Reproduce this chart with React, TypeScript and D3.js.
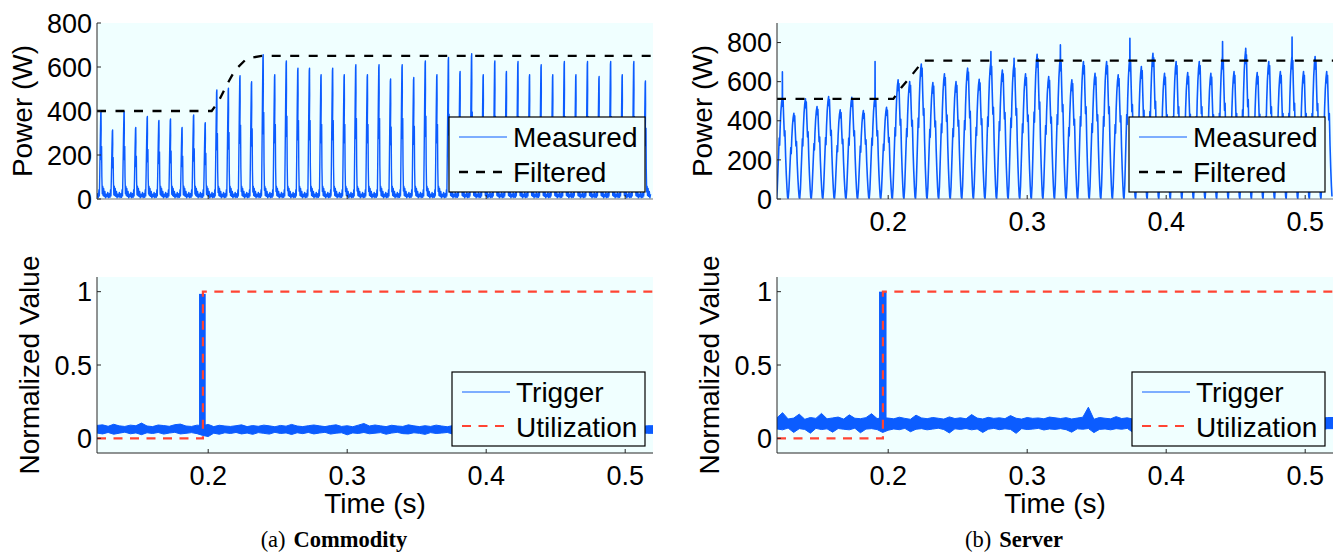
import React from 'react';
import * as d3 from 'd3';

// ---------------- data ----------------
const X_DOMAIN: [number, number] = [0.12, 0.52];
const X_TICKS = [0.2, 0.3, 0.4, 0.5];
const X_TICK_LABELS = ['0.2', '0.3', '0.4', '0.5'];
const POWER_TICKS = [0, 200, 400, 600, 800];
const NORM_TICKS = [0, 0.5, 1];
const NORM_TICK_LABELS = ['0', '0.5', '1'];
const COM_POWER_DOMAIN: [number, number] = [0, 800];
const SRV_POWER_DOMAIN: [number, number] = [0, 900];
const NORM_DOMAIN: [number, number] = [-0.1, 1.1];

const PERIOD = 1 / 120; // rectified 60 Hz mains
const COM_FIRST_PEAK = 0.1229;
const SRV_FIRST_PEAK = 0.1238;

// Commodity: peak power of each spike (W)
const comPeaks = [
  398, 314, 398, 325, 375, 357, 364, 325, 382, 347,
  496, 504, 560, 533, 656, 565, 628, 595, 595, 565,
  595, 565, 610, 565, 610, 546, 610, 552, 628, 565,
  643, 580, 660, 565, 628, 580, 625, 565, 610, 565,
  625, 565, 625, 557, 625, 565, 625, 537,
];
// one spike: [time offset from peak (s), absolute W, fraction of peak]
const comSpikeShape: [number, number, number][] = [
  [-0.0041, 10, 0], [-0.0035, 30, 0], [-0.0030, 6, 0], [-0.0024, 24, 0],
  [-0.0019, 8, 0], [-0.0015, 42, 0], [-0.0012, 14, 0], [-0.0009, 0, 0.3],
  [-0.0005, 0, 0.72], [-0.0002, 0, 0.98], [0, 0, 1], [0.0001, 0, 0.8],
  [-0.0001, 0, 0.55], [0.0002, 0, 0.45], [0.0004, 0, 0.6], [0.0006, 0, 0.25],
  [0.0009, 0, 0.06], [0.0012, 58, 0], [0.0015, 16, 0], [0.0019, 48, 0],
  [0.0023, 12, 0], [0.0028, 34, 0], [0.0032, 5, 0], [0.0037, 22, 0],
];
const comFiltered: [number, number][] = [
  [0.12, 400], [0.2025, 400], [0.2073, 442], [0.2133, 518], [0.2193, 586],
  [0.2277, 638], [0.2385, 651], [0.52, 651],
];

// Server: body peak of each cycle (W)
const srvPeaks = [
  520, 438, 512, 473, 524, 456, 520, 452, 520, 469,
  609, 600, 690, 595, 640, 600, 669, 612, 700, 660,
  690, 640, 740, 626, 720, 609, 703, 643, 703, 635,
  720, 677, 745, 643, 703, 647, 703, 643, 730, 652,
  760, 647, 703, 652, 730, 652, 729, 652,
];
// narrow spikes above the body: [cycle index, W]
const srvSpikes: [number, number][] = [
  [0, 650], [8, 703], [18, 754], [20, 720], [24, 788], [30, 822], [38, 805], [40, 771], [44, 828],
];
// one cycle: [time offset from peak (s), fraction of peak]
const srvCycleShape: [number, number][] = [
  [-0.00415, 0.0], [-0.0036, 0.1], [-0.0031, 0.28], [-0.0026, 0.46], [-0.0022, 0.6],
  [-0.0019, 0.53], [-0.0015, 0.71], [-0.001, 0.86], [-0.0005, 0.95], [0, 1.0],
  [0.0003, 0.91], [0.0006, 0.97], [0.001, 0.8], [0.0015, 0.62], [0.0019, 0.67],
  [0.0024, 0.42], [0.0029, 0.24], [0.0034, 0.1], [0.0038, 0.02],
];
const srvFiltered: [number, number][] = [
  [0.12, 512], [0.2037, 512], [0.2095, 570], [0.2157, 622], [0.2253, 708], [0.52, 708],
];

// Trigger envelopes, one value per 4 ms bin starting at 0.12 s
const TRIG_STEP = 0.004;
const comTrigHi = [
  0.088, 0.092, 0.082, 0.096, 0.085, 0.081, 0.090, 0.086, 0.104, 0.084,
  0.080, 0.091, 0.087, 0.082, 0.093, 0.097, 0.084, 0.081, 0.090, 0.086,
  0.095, 0.080, 0.089, 0.084, 0.081, 0.086, 0.092, 0.080, 0.087, 0.082,
  0.090, 0.085, 0.079, 0.088, 0.083, 0.095, 0.084, 0.080, 0.086, 0.091,
  0.085, 0.080, 0.087, 0.092, 0.081, 0.086, 0.079, 0.090, 0.101, 0.084,
  0.091, 0.085, 0.080, 0.089, 0.084, 0.081, 0.092, 0.085, 0.080, 0.086,
  0.081, 0.090, 0.084, 0.079, 0.087, 0.093, 0.085, 0.080, 0.089, 0.084,
  0.081, 0.086, 0.091, 0.084, 0.080, 0.087, 0.092, 0.081, 0.085, 0.090,
  0.080, 0.086, 0.093, 0.081, 0.085, 0.089, 0.084, 0.080, 0.087, 0.091,
  0.084, 0.080, 0.090, 0.085, 0.081, 0.087, 0.092, 0.084, 0.080, 0.086,
];
const comTrigLo = [
  0.036, 0.030, 0.040, 0.028, 0.035, 0.042, 0.031, 0.037, 0.025, 0.038,
  0.033, 0.040, 0.029, 0.036, 0.041, 0.030, 0.034, 0.039, 0.032, 0.020,
  0.012, 0.035, 0.028, 0.038, 0.033, 0.040, 0.030, 0.036, 0.027, 0.039,
  0.034, 0.029, 0.041, 0.033, 0.037, 0.026, 0.038, 0.032, 0.040, 0.030,
  0.036, 0.041, 0.029, 0.035, 0.038, 0.024, 0.037, 0.033, 0.040, 0.031,
  0.035, 0.039, 0.028, 0.036, 0.041, 0.032, 0.030, 0.038, 0.034, 0.027,
  0.039, 0.033, 0.036, 0.040, 0.029, 0.035, 0.031, 0.038, 0.034, 0.040,
  0.030, 0.036, 0.027, 0.039, 0.034, 0.031, 0.037, 0.040, 0.029, 0.035,
  0.038, 0.032, 0.036, 0.028, 0.040, 0.034, 0.031, 0.037, 0.033, 0.026,
  0.039, 0.035, 0.030, 0.037, 0.041, 0.032, 0.036, 0.029, 0.038, 0.034,
];
const srvTrigHi = [
  0.140, 0.175, 0.132, 0.138, 0.165, 0.130, 0.142, 0.136, 0.170, 0.133,
  0.139, 0.145, 0.131, 0.160, 0.137, 0.134, 0.141, 0.168, 0.135, 0.140,
  0.138, 0.133, 0.144, 0.136, 0.130, 0.158, 0.139, 0.134, 0.142, 0.137,
  0.131, 0.146, 0.135, 0.140, 0.133, 0.162, 0.138, 0.132, 0.143, 0.136,
  0.140, 0.134, 0.155, 0.137, 0.131, 0.142, 0.136, 0.139, 0.133, 0.145,
  0.140, 0.135, 0.141, 0.132, 0.138, 0.144, 0.212, 0.130, 0.142, 0.137,
  0.133, 0.148, 0.135, 0.140, 0.131, 0.139, 0.136, 0.143, 0.134, 0.138,
  0.141, 0.132, 0.137, 0.145, 0.133, 0.139, 0.136, 0.131, 0.142, 0.135,
  0.140, 0.134, 0.138, 0.156, 0.132, 0.141, 0.137, 0.133, 0.144, 0.136,
  0.139, 0.131, 0.143, 0.135, 0.138, 0.162, 0.134, 0.140, 0.136, 0.142,
];
const srvTrigLo = [
  0.064, 0.058, 0.070, 0.040, 0.066, 0.061, 0.035, 0.068, 0.060, 0.065,
  0.042, 0.067, 0.062, 0.058, 0.069, 0.038, 0.063, 0.066, 0.060, 0.040,
  0.055, 0.064, 0.059, 0.068, 0.045, 0.062, 0.066, 0.058, 0.063, 0.069,
  0.060, 0.037, 0.065, 0.061, 0.067, 0.058, 0.064, 0.040, 0.062, 0.068,
  0.059, 0.065, 0.061, 0.034, 0.066, 0.060, 0.063, 0.068, 0.057, 0.064,
  0.061, 0.066, 0.059, 0.042, 0.065, 0.062, 0.067, 0.039, 0.061, 0.064,
  0.058, 0.066, 0.062, 0.068, 0.041, 0.063, 0.059, 0.065, 0.060, 0.067,
  0.044, 0.062, 0.066, 0.058, 0.064, 0.061, 0.038, 0.065, 0.060, 0.067,
  0.063, 0.059, 0.066, 0.045, 0.062, 0.068, 0.060, 0.064, 0.040, 0.065,
  0.061, 0.067, 0.058, 0.063, 0.066, 0.043, 0.062, 0.064, 0.059, 0.066,
];
// trigger pulse: [start s, end s, bottom, top]
const comPulse = [0.1934, 0.1982, 0.03, 0.985];
const srvPulse = [0.1934, 0.1988, 0.06, 1.0];
const utilization: [number, number][] = [[0.12, 0], [0.1962, 0], [0.1962, 1], [0.52, 1]];

const captions = [
  { tag: '(a)', name: 'Commodity' },
  { tag: '(b)', name: 'Server' },
];

// ---------------- layout / style ----------------
const W = 1342, H = 554;
const PANEL_DX = [0, 680];
const PLOT_L = 97, PLOT_R = 653;
const TOP_RANGE: [number, number] = [199, 23];
const BOT_RANGE: [number, number] = [453, 277];
const BG = '#F0FFFF';
const BLUE = '#0b5cff';
const RED = '#ff4433';
const AXIS = '#262626';
const FONT = "'Liberation Sans', Arial, Helvetica, sans-serif";
const SERIF = "'Liberation Serif', 'Times New Roman', serif";
const FS = 28;
const TICK_FS = 27;

function buildCommodity(): [number, number][] {
  const pts: [number, number][] = [];
  comPeaks.forEach((p, k) => {
    const tc = COM_FIRST_PEAK + k * PERIOD;
    comSpikeShape.forEach(([dt, a, r]) => pts.push([tc + dt, a + r * p]));
  });
  return pts;
}
function buildServer(): [number, number][] {
  const pts: [number, number][] = [];
  const spikeMap = new Map(srvSpikes);
  srvPeaks.forEach((p, k) => {
    const tc = SRV_FIRST_PEAK + k * PERIOD;
    srvCycleShape.forEach(([dt, r]) => {
      pts.push([tc + dt, r * p]);
      if (dt === 0 && spikeMap.has(k)) {
        pts.push([tc + 0.00008, spikeMap.get(k) as number]);
        pts.push([tc + 0.00016, r * p]);
      }
    });
  });
  return pts;
}

function Legend({ x, y, w, h, rows, lineX0, lineX1, textX }: any) {
  return (
    <g>
      <rect x={x} y={y} width={w} height={h} fill={BG} stroke="#000" strokeWidth={1.2} />
      {rows.map((r: any, i: number) => (
        <g key={i}>
          <line x1={lineX0} x2={lineX1} y1={r.ly} y2={r.ly} stroke={r.color} strokeWidth={r.width}
            strokeDasharray={r.dash} />
          <text x={textX} y={r.ty} fontSize={FS} fontFamily={FONT} fill="#000">{r.label}</text>
        </g>
      ))}
    </g>
  );
}

function Panel({ idx }: { idx: number }) {
  const dx = PANEL_DX[idx];
  const isCom = idx === 0;
  const x = d3.scaleLinear().domain(X_DOMAIN).range([PLOT_L + dx, PLOT_R + dx]);
  const yTop = d3.scaleLinear().domain(isCom ? COM_POWER_DOMAIN : SRV_POWER_DOMAIN).range(TOP_RANGE);
  const yBot = d3.scaleLinear().domain(NORM_DOMAIN).range(BOT_RANGE);

  const measured = isCom ? buildCommodity() : buildServer();
  const filtered = isCom ? comFiltered : srvFiltered;
  const lineTop = d3.line<[number, number]>().x(d => x(d[0])).y(d => yTop(d[1]));
  const lineBot = d3.line<[number, number]>().x(d => x(d[0])).y(d => yBot(d[1]));

  const hi = isCom ? comTrigHi : srvTrigHi;
  const lo = isCom ? comTrigLo : srvTrigLo;
  const trig = hi.map((h, i) => ({ t: X_DOMAIN[0] + i * TRIG_STEP, h, l: lo[i] }));
  trig.push({ t: X_DOMAIN[1], h: hi[hi.length - 1], l: lo[lo.length - 1] });
  const trigArea = d3.area<any>().x(d => x(d.t)).y0(d => yBot(d.l)).y1(d => yBot(d.h));
  const pulse = isCom ? comPulse : srvPulse;

  const clipTop = `clipTop${idx}`;
  const clipBot = `clipBot${idx}`;
  const xl = PLOT_L + dx, xr = PLOT_R + dx;
  const midX = (xl + xr) / 2;

  return (
    <g>
      <defs>
        <clipPath id={clipTop}><rect x={xl} y={TOP_RANGE[1]} width={xr - xl} height={TOP_RANGE[0] - TOP_RANGE[1]} /></clipPath>
        <clipPath id={clipBot}><rect x={xl} y={BOT_RANGE[1]} width={xr - xl} height={BOT_RANGE[0] - BOT_RANGE[1]} /></clipPath>
      </defs>
      {/* top panel */}
      <rect x={xl} y={TOP_RANGE[1]} width={xr - xl} height={TOP_RANGE[0] - TOP_RANGE[1]} fill={BG} />
      <g clipPath={`url(#${clipTop})`}>
        <path d={lineTop(measured) || ''} fill="none" stroke={BLUE} strokeWidth={isCom ? 1.4 : 1.6} strokeLinejoin="round" />
        <path d={lineTop(filtered) || ''} fill="none" stroke="#000" strokeWidth={2.3} strokeDasharray="9 9.5" />
      </g>
      <line x1={xl} x2={xr} y1={TOP_RANGE[0]} y2={TOP_RANGE[0]} stroke="#777" strokeWidth={1} />
      <line x1={xl} x2={xl} y1={TOP_RANGE[0]} y2={TOP_RANGE[1]} stroke={AXIS} strokeWidth={1} />
      {POWER_TICKS.map(v => (
        <g key={v}>
          <line x1={xl} x2={xl + 4} y1={yTop(v)} y2={yTop(v)} stroke={AXIS} />
          <text x={xl - 5} y={yTop(v) + 9.7} textAnchor="end" fontSize={TICK_FS} fontFamily={FONT}>{v}</text>
        </g>
      ))}
      {X_TICKS.map((v, i) => (
        <g key={v}>
          <line x1={x(v)} x2={x(v)} y1={TOP_RANGE[0]} y2={TOP_RANGE[0] - 4} stroke={AXIS} />
          {!isCom && (
            <text x={x(v)} y={TOP_RANGE[0] + 32} textAnchor="middle" fontSize={TICK_FS} fontFamily={FONT}>{X_TICK_LABELS[i]}</text>
          )}
        </g>
      ))}
      <text transform={`translate(${32 + dx},${(TOP_RANGE[0] + TOP_RANGE[1]) / 2}) rotate(-90)`} textAnchor="middle"
        fontSize={FS} fontFamily={FONT}>Power (W)</text>
      <Legend x={449 + dx} y={117} w={196} h={75} lineX0={459 + dx} lineX1={507 + dx} textX={513 + dx}
        rows={[
          { label: 'Measured', color: BLUE, width: 1, ly: 137, ty: 147 },
          { label: 'Filtered', color: '#000', width: 2.3, dash: '9 8', ly: 172, ty: 182 },
        ]} />

      {/* bottom panel */}
      <rect x={xl} y={BOT_RANGE[1]} width={xr - xl} height={BOT_RANGE[0] - BOT_RANGE[1]} fill={BG} />
      <g clipPath={`url(#${clipBot})`}>
        <path d={trigArea(trig) || ''} fill={BLUE} stroke={BLUE} strokeWidth={1} strokeLinejoin="round" />
        <rect x={x(pulse[0])} width={x(pulse[1]) - x(pulse[0])} y={yBot(pulse[3])} height={yBot(pulse[2]) - yBot(pulse[3])}
          fill={BLUE} />
        <path d={lineBot(utilization) || ''} fill="none" stroke={RED} strokeWidth={2.2} strokeDasharray="9 7.5" />
      </g>
      <line x1={xl} x2={xr} y1={BOT_RANGE[0]} y2={BOT_RANGE[0]} stroke={AXIS} strokeWidth={1} />
      <line x1={xl} x2={xl} y1={BOT_RANGE[0]} y2={BOT_RANGE[1]} stroke={AXIS} strokeWidth={1} />
      {NORM_TICKS.map((v, i) => (
        <g key={v}>
          <line x1={xl} x2={xl + 4} y1={yBot(v)} y2={yBot(v)} stroke={AXIS} />
          <text x={xl - 5} y={yBot(v) + 9.7} textAnchor="end" fontSize={TICK_FS} fontFamily={FONT}>{NORM_TICK_LABELS[i]}</text>
        </g>
      ))}
      {X_TICKS.map((v, i) => (
        <g key={v}>
          <line x1={x(v)} x2={x(v)} y1={BOT_RANGE[0]} y2={BOT_RANGE[0] - 4} stroke={AXIS} />
          <text x={x(v)} y={BOT_RANGE[0] + 31.5} textAnchor="middle" fontSize={TICK_FS} fontFamily={FONT}>{X_TICK_LABELS[i]}</text>
        </g>
      ))}
      <text transform={`translate(${39 + dx},${(BOT_RANGE[0] + BOT_RANGE[1]) / 2}) rotate(-90)`} textAnchor="middle"
        fontSize={FS} fontFamily={FONT}>Normalized Value</text>
      <text x={midX} y={513} textAnchor="middle" fontSize={FS} fontFamily={FONT}>Time (s)</text>
      <Legend x={452 + dx} y={372} w={193} h={74} lineX0={462 + dx} lineX1={510 + dx} textX={516 + dx}
        rows={[
          { label: 'Trigger', color: BLUE, width: 1, ly: 392, ty: 402 },
          { label: 'Utilization', color: RED, width: 2.2, dash: '9 7.5', ly: 426, ty: 437 },
        ]} />

      {/* caption */}
      <text x={334 + dx} y={547} textAnchor="middle" fontSize={22.5} fontFamily={SERIF}>
        {captions[idx].tag}
        <tspan dx={8} fontWeight="bold">{captions[idx].name}</tspan>
      </text>
    </g>
  );
}

export default function App() {
  return (
    <div style={{ position: 'absolute', left: 0, top: 0, width: W, height: H, background: '#fff' }}>
      <svg width={W} height={H} viewBox={`0 0 ${W} ${H}`} style={{ display: 'block' }}>
        <rect width={W} height={H} fill="#fff" />
        <Panel idx={0} />
        <Panel idx={1} />
      </svg>
    </div>
  );
}
